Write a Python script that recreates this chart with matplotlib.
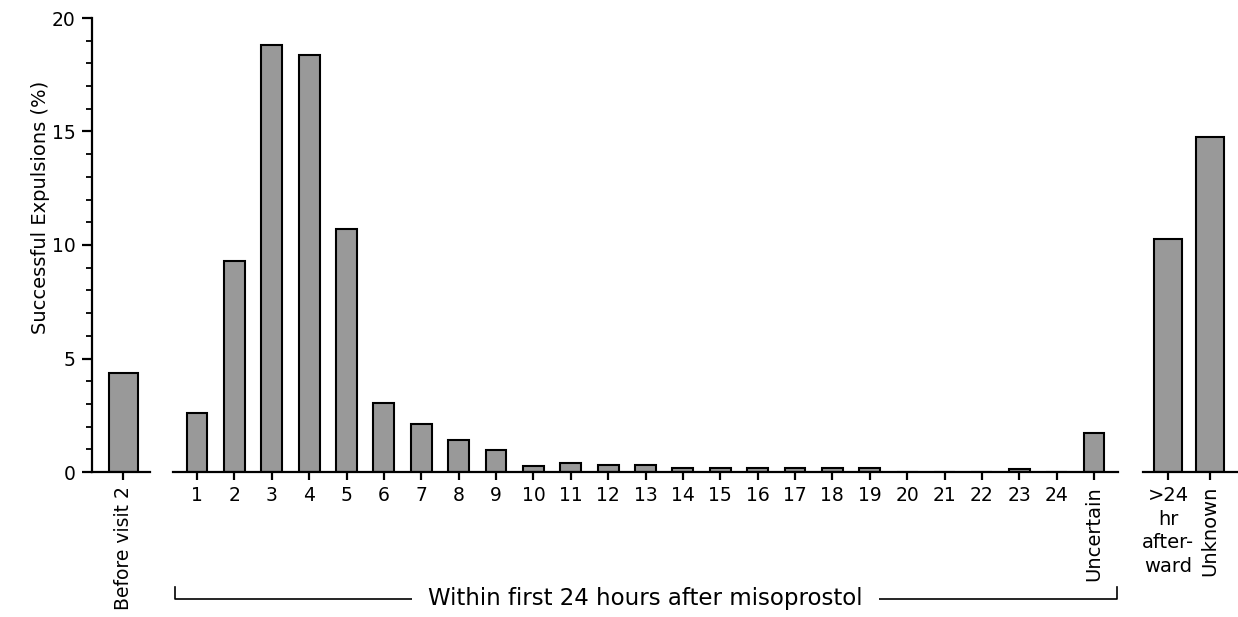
import matplotlib
matplotlib.use("Agg")
import matplotlib.pyplot as plt
from matplotlib.ticker import MultipleLocator
import numpy as np

plt.rcParams['font.family'] = ['DejaVu Sans']

# ---- data ----
before_label = ["Before visit 2"]
before_values = [4.35]

hour_labels = [str(h) for h in range(1, 25)] + ["Uncertain"]
hour_values = [2.6, 9.3, 18.8, 18.35, 10.7, 3.05, 2.1, 1.4, 0.97, 0.25,
               0.4, 0.3, 0.3, 0.17, 0.17, 0.17, 0.17, 0.17, 0.17, 0.0,
               0.0, 0.0, 0.15, 0.0, 1.7]

after_labels = [">24\nhr\nafter-\nward", "Unknown"]
after_values = [10.25, 14.75]

bracket_label = "Within first 24 hours after misoprostol"
ylabel = "Successful Expulsions (%)"

# ---- layout ----
W, H = 1238, 617
fig = plt.figure(figsize=(W / 100, H / 100), dpi=100)

base_y = 472
top_y = 18
bottom = 1 - base_y / H
height = (base_y - top_y) / H

def add_ax(x0, x1):
    return fig.add_axes([x0 / W, bottom, (x1 - x0) / W, height])

ax1 = add_ax(92, 150)
ax2 = add_ax(173, 1118)
ax3 = add_ax(1143, 1238)

fill = "#999999"
edge = "black"
lw = 1.5
fs_num = 13.5
fs_txt = 14

# segment 1
x1 = np.arange(len(before_values))
ax1.bar(x1, before_values, width=0.776, color=fill, edgecolor=edge, linewidth=lw)
ax1.set_xlim(-0.83, 0.72)

# segment 2
x2 = np.arange(1, len(hour_values) + 1)
ax2.bar(x2, hour_values, width=0.56, color=fill, edgecolor=edge, linewidth=lw)
ax2.set_xlim(1 - 24 / 37.375, 25 + 24 / 37.375)

# segment 3
x3 = np.arange(len(after_values))
ax3.bar(x3, after_values, width=0.69, color=fill, edgecolor=edge, linewidth=lw)
ax3.set_xlim(-25 / 42, 1 + 28 / 42)

for ax in (ax1, ax2, ax3):
    ax.set_ylim(0, 20)
    ax.spines['top'].set_visible(False)
    ax.spines['right'].set_visible(False)
    ax.spines['bottom'].set_linewidth(1.6)
    ax.tick_params(axis='x', direction='out', length=6, width=1.6, labelsize=fs_num, pad=4)

for ax in (ax2, ax3):
    ax.spines['left'].set_visible(False)
    ax.tick_params(axis='y', left=False, labelleft=False)

ax1.spines['left'].set_linewidth(1.6)
ax1.yaxis.set_major_locator(MultipleLocator(5))
ax1.yaxis.set_minor_locator(MultipleLocator(1))
ax1.tick_params(axis='y', which='major', direction='out', length=7, width=1.6, labelsize=fs_num, pad=5)
ax1.tick_params(axis='y', which='minor', direction='out', length=4.5, width=1.3)
ax1.set_ylabel(ylabel, fontsize=fs_txt)
ax1.yaxis.set_label_coords(-0.72, (base_y - 207) / (base_y - top_y))

ax1.set_xticks(x1)
ax1.set_xticklabels(before_label, rotation=90, fontsize=13.5)

ax2.set_xticks(x2)
labs = ax2.set_xticklabels(hour_labels, fontsize=fs_num)
labs[-1].set_rotation(90)
labs[-1].set_fontsize(fs_txt)

ax3.set_xticks(x3)
labs3 = ax3.set_xticklabels(after_labels, fontsize=fs_txt)
labs3[0].set_linespacing(1.32)
labs3[1].set_rotation(90)

# bracket under segment 2
yb = (base_y - 599) / (base_y - top_y)
yt = (base_y - 587) / (base_y - top_y)
ax2.plot([0.002, 0.002, 0.999, 0.999], [yt, yb, yb, yt], transform=ax2.transAxes,
         color='black', lw=1.2, clip_on=False)
ax2.text(0.5, yb, bracket_label, transform=ax2.transAxes, ha='center', va='center',
         fontsize=16.5, bbox=dict(facecolor='white', edgecolor='none', pad=12))

fig.savefig("out.png", dpi=100)
